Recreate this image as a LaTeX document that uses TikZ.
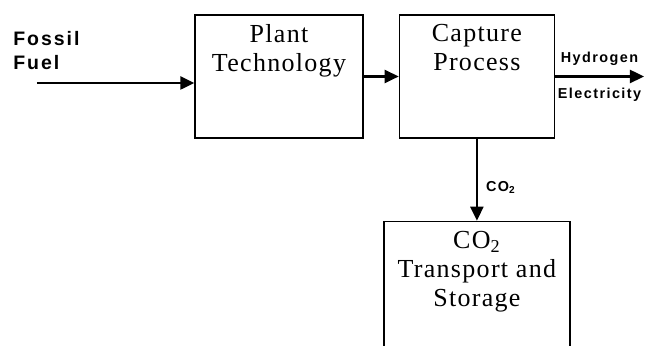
\documentclass[tikz,border=0pt]{standalone}
\usepackage{fontspec}
\newfontfamily\boxfont[LetterSpace=5]{Liberation Serif}
\newfontfamily\tagfont[LetterSpace=10]{Liberation Sans}
\usetikzlibrary{arrows.meta, positioning}

\begin{document}
\begin{tikzpicture}[
            x=0.5pt, y=-0.5pt,
            node distance=17.5pt,
            block/.style={rectangle, draw, line width=0.7pt,
                          minimum height=61.5pt, inner sep=0pt},
            boxtext/.style={font=\fontsize{13}{14.5}\selectfont\boxfont,
                            align=center, inner sep=0pt, anchor=north, yshift=-5pt},
            tag/.style={font=\fontsize{7.2}{8}\selectfont\tagfont\bfseries, inner sep=0pt},
            arrow/.style={-{Triangle[length=7pt, width=6.5pt]}, line width=1.2pt},
        ]
            \clip (0,0) rectangle (645,346);
            \node[block, minimum width=84pt,
                  label={[boxtext]north:{Plant\\Technology}}] (plant) at (279,76.5) {};
            \node[block, minimum width=77.5pt, right=of plant,
                  label={[boxtext]north:{Capture\\Process}}] (capture) {};
            \node[block, minimum width=93pt, minimum height=80pt, below=41pt of capture,
                  label={[boxtext]north:{CO\textsubscript{2}\\Transport and\\Storage}}] (storage) {};

            \node[tag, font=\fontsize{9.75}{12}\selectfont\tagfont\bfseries,
                  align=left, anchor=north west] (fuel) at (13,31) {Fossil\\Fuel};
            \coordinate (fuelin) at (37,83);
            \coordinate (out) at (644,76.5);

            \draw[arrow] (fuelin) -- (fuelin -| plant.west);
            \draw[arrow] (plant) -- (capture);
            \draw[arrow] (capture) -- node[tag, above=5pt] (hydrogen) {Hydrogen}
                                      node[tag, below=5pt] (electricity) {Electricity} (capture -| out);
            \draw[arrow] (capture) -- node[tag, right=4pt, yshift=-4pt] (co2) {CO\textsubscript{2}} (storage);
        \end{tikzpicture}
\end{document}
